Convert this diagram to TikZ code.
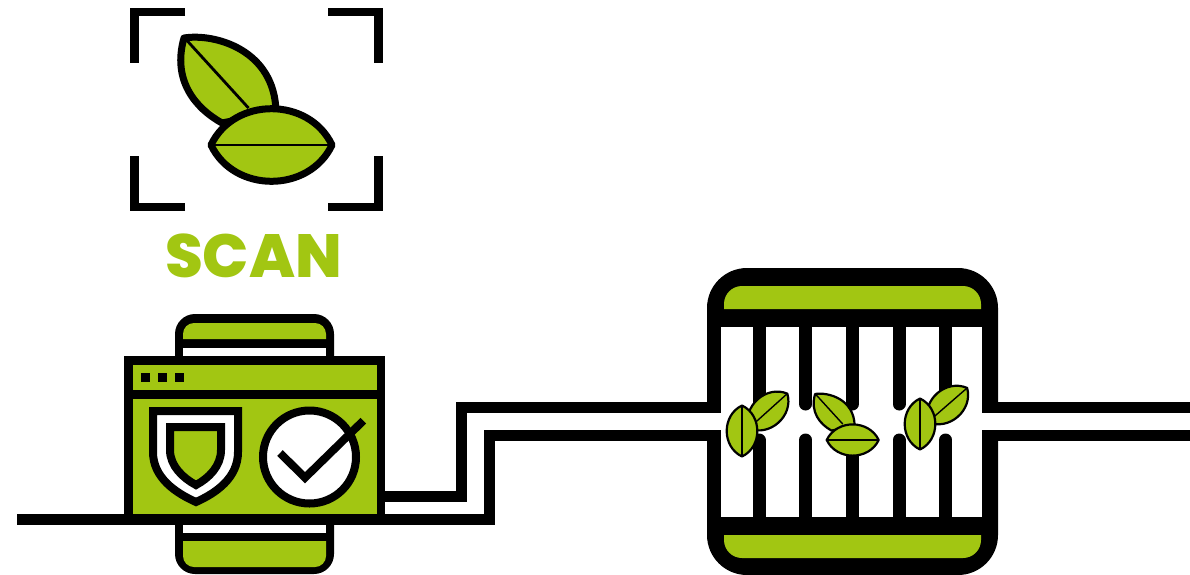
\documentclass[tikz,border=0pt]{standalone}
\usepackage{fontspec}
\newfontfamily\scanfont{Poppins ExtraBold}
\usetikzlibrary{positioning}
\definecolor{leafgreen}{HTML}{A2C612}
\newcommand{\lensoutline}{(-1,0) .. controls (-.62,-.8) and (.62,-.8) .. (1,0)
      .. controls (.62,.8) and (-.62,.8) .. (-1,0) -- cycle}
\tikzset{
  rib/.store in=\ribw, rib=2.5pt,
  leafline/.style={draw=black, fill=leafgreen, line join=round},
  wire/.style={line width=11pt, line join=miter},
  tooth/.style={line width=13pt, line cap=round},
  lensleaf/.pic={
    \draw[leafline] \lensoutline;
    \draw[line width=\ribw] (-1,0) -- (1,0);
  },
  leafpair/.pic={
    \draw[leafline] (-87.5,-107) .. controls (-56.5,-112) and (3.5,-95) .. (4.5,-33)
      -- (-49.5,-22) .. controls (-76.5,-37) and (-99.5,-65) .. (-87.5,-107) -- cycle;
    \draw[line width=\ribw] (-85,-105) -- (-23,-37);
    \begin{scope}[scale=60.5]
      \draw[leafline] \lensoutline;
      \draw[line width=\ribw] (-1,0) -- (1,0);
    \end{scope}
  }
}
\begin{document}
\begin{tikzpicture}[x=1pt, y=-1pt]
  \useasboundingbox (0,0) rectangle (1190,574);

  % scan frame
  \foreach \xa/\xb/\ya/\yb in {185/134.5/12/63, 328/378.5/12/63, 185/134.5/207/156, 328/378.5/207/156} {
    \draw[line width=8.5pt, line join=miter] (\xa,\ya) -- (\xb,\ya) -- (\xb,\yb);
  }
  \pic[line width=7pt, rib=2.8pt] at (271.5,145) {leafpair};
  \node[inner sep=0pt, text=leafgreen, font=\scanfont\fontsize{61}{61}\selectfont] (scanlabel) at (253.5,256) {SCAN};

  % phone behind the window
  \fill[rounded corners=20] (175,314) rectangle (334,574);
  \fill[leafgreen] (183,339) [rounded corners=11] -- (183,323) -- (326,323) [sharp corners] -- (326,339) -- cycle;
  \fill[white] (183,348) rectangle (326,356);
  \fill[white] (183,525) rectangle (326,533);
  \fill[leafgreen] (183,541) -- (326,541) [rounded corners=11] -- (326,567) -- (183,567) [sharp corners] -- cycle;

  % window
  \fill (124,356) rectangle (385,520);
  \fill[leafgreen] (133,365) rectangle (377,390);
  \fill[leafgreen] (133,399) rectangle (377,515);
  \foreach \x in {141,158,175} {
    \fill (\x,373) rectangle ++(8.5,9);
  }

  % shield
  \draw[line width=8pt, fill=white, line join=miter] (153,411) -- (238,411) -- (238,452)
    .. controls (238,478) and (216,493) .. (196,502)
    .. controls (176,493) and (153,478) .. (153,452) -- cycle;
  \draw[line width=8pt, fill=leafgreen, line join=miter] (170,427) -- (221,427) -- (221,450)
    .. controls (221,466) and (209,478) .. (196,485)
    .. controls (183,478) and (170,466) .. (170,450) -- cycle;

  % check mark
  \draw[line width=8pt, fill=white] (309.5,457) circle (46.5);
  \draw[line width=8pt, line join=miter] (280,453) -- (305,477.7) -- (363.3,420.7);

  % wires
  \draw[wire] (17,519.5) -- (489.5,519.5) -- (489.5,435.5) -- (710,435.5);
  \draw[wire] (385,496.5) -- (461.5,496.5) -- (461.5,407.5) -- (710,407.5);
  \draw[wire] (995,407.5) -- (1190,407.5);
  \draw[wire] (995,435.5) -- (1190,435.5);

  % filter
  \fill[rounded corners=40] (707,268) rectangle (998,575);
  \fill[leafgreen] (724,309) [rounded corners=18] -- (724,286) -- (981,286) [sharp corners] -- (981,309) -- cycle;
  \fill[leafgreen] (724,535) -- (981,535) [rounded corners=18] -- (981,558) -- (724,558) [sharp corners] -- cycle;
  \fill[white] (721,327) rectangle (982,517);
  \fill[white] (705,413) rectangle (722,430);
  \fill[white] (981,413) rectangle (1000,430);
  \foreach \x in {759,805.7,852.3,899,945.7} {
    \draw[tooth] (\x,325) -- (\x,404);
    \draw[tooth] (\x,519) -- (\x,440);
  }

  % leaves in the filter
  \pic[line width=2.2pt, rib=1.4pt, scale=26, rotate=42] at (768,411) {lensleaf};
  \pic[line width=2.2pt, rib=1.4pt, scale=25.5, rotate=90] at (742,431) {lensleaf};
  \pic[line width=2.2pt, rib=1.4pt, scale=.43] at (852.7,440) {leafpair};
  \pic[line width=2.2pt, rib=1.4pt, scale=26, rotate=41] at (947.5,405) {lensleaf};
  \pic[line width=2.2pt, rib=1.4pt, scale=25.5, rotate=90] at (920,424) {lensleaf};
\end{tikzpicture}
\end{document}
